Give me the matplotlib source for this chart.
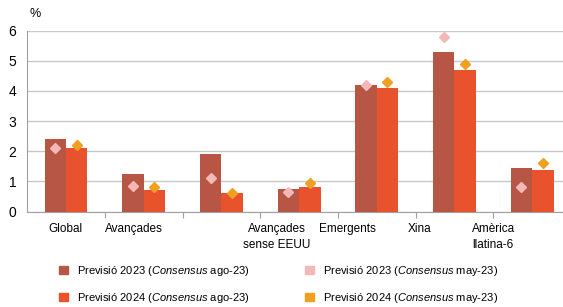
import numpy as np
import matplotlib.pyplot as plt
from matplotlib.patches import Patch

plt.rcParams['font.family'] = ['Liberation Sans', 'DejaVu Sans']
plt.rcParams['mathtext.fontset'] = 'custom'
plt.rcParams['mathtext.it'] = 'Liberation Sans:italic'
plt.rcParams['mathtext.rm'] = 'Liberation Sans'

# dades
categories = ["Global", "Avançades", "", "Avançades\nsense EEUU", "Emergents", "Xina", "Amèrica\nllatina-6"]
prev2023_ago = [2.4, 1.25, 1.9, 0.75, 4.2, 5.3, 1.45]
prev2024_ago = [2.1, 0.72, 0.6, 0.8, 4.1, 4.7, 1.38]
prev2023_may = [2.1, 0.85, 1.1, 0.65, 4.2, 5.8, 0.8]
prev2024_may = [2.2, 0.8, 0.6, 0.95, 4.3, 4.9, 1.6]

c_2023 = "#B85646"
c_2024 = "#E8522C"
c_may23 = "#F3B9B6"
c_may24 = "#EFA020"

fig = plt.figure(figsize=(5.63, 3.07), dpi=100)
ax = fig.add_axes([0.0485, 0.311, 0.9657, 0.589])

x = np.arange(len(categories))
w = 0.275
ax.bar(x - w/2, prev2023_ago, width=w, color=c_2023, zorder=3)
ax.bar(x + w/2, prev2024_ago, width=w, color=c_2024, zorder=3)
ax.plot(x - w/2, prev2023_may, 'D', color=c_may23, ms=5.5, zorder=4)
ax.plot(x + w/2, prev2024_may, 'D', color=c_may24, ms=5.5, zorder=4)

ax.set_xlim(-0.5, len(categories) - 0.5)
ax.set_ylim(0, 6)
ax.set_yticks(range(0, 7))
ax.yaxis.grid(True, color="#C8C8C8", lw=1, zorder=0)
ax.tick_params(axis='y', length=0, labelsize=10, pad=8)

# marques entre grups, etiquetes a mà (desplaçades com a l'original)
ax.set_xticks(np.arange(0.5, len(categories) - 0.5, 1))
ax.set_xticklabels([])
ax.tick_params(axis='x', length=4, color="#A0A0A0", direction='out')
label_x = [-0.01, 0.87, 2.0, 2.71, 3.62, 4.55, 5.50]
for lx, lab in zip(label_x, categories):
    ax.annotate(lab, (lx, 0), xycoords=('data', 'axes fraction'),
                xytext=(0, -8), textcoords='offset points',
                ha='center', va='top', fontsize=8.5, linespacing=1.45)

for s in ['top', 'right']:
    ax.spines[s].set_visible(False)
ax.spines['left'].set_color("#A0A0A0")
ax.spines['bottom'].set_color("#A0A0A0")

fig.text(0.052, 0.935, "%", fontsize=9, ha='left', va='bottom')

handles = [Patch(color=c_2023), Patch(color=c_2024), Patch(color=c_may23), Patch(color=c_may24)]
labels = ["Previsió 2023 ($\\it{Consensus}$ ago-23)", "Previsió 2024 ($\\it{Consensus}$ ago-23)",
          "Previsió 2023 ($\\it{Consensus}$ may-23)", "Previsió 2024 ($\\it{Consensus}$ may-23)"]
fig.legend(handles, labels, ncol=2, loc='upper left', bbox_to_anchor=(0.105, 0.14),
           frameon=False, fontsize=8, handlelength=0.8, handleheight=0.8,
           handletextpad=0.8, columnspacing=5.0, labelspacing=1.15,
           borderpad=0, borderaxespad=0)

fig.savefig("out.png", dpi=100)
